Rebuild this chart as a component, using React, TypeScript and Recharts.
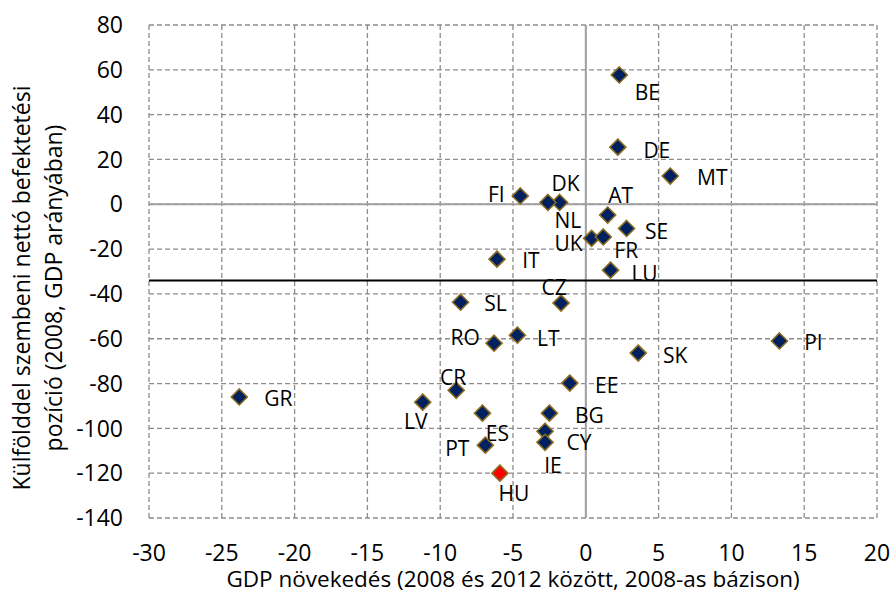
import React from 'react';
import {
  ScatterChart,
  Scatter,
  XAxis,
  YAxis,
  CartesianGrid,
  ReferenceLine,
} from 'recharts';

// country codes, GDP growth 2008-2012 (%), net international investment position 2008 (% of GDP)
const countries = ['BE', 'DE', 'MT', 'FI', 'DK', 'NL', 'AT', 'SE', 'UK', 'FR', 'IT', 'LU', 'CZ', 'SL', 'RO', 'LT', 'SK', 'PI', 'EE', 'CR', 'BG', 'ES', 'LV', 'CY', 'IE', 'PT', 'HU', 'GR'];
const gdpGrowth = [2.3, 2.2, 5.8, -4.5, -1.8, -2.6, 1.5, 2.8, 0.4, 1.2, -6.1, 1.7, -1.7, -8.6, -6.3, -4.7, 3.6, 13.3, -1.1, -8.9, -2.5, -7.1, -11.2, -2.8, -2.8, -6.9, -5.9, -23.8];
const niip = [57.7, 25.5, 12.6, 3.7, 0.8, 0.8, -4.8, -10.8, -15.2, -14.6, -24.5, -29.4, -44.1, -43.7, -62, -58.4, -66.4, -61, -79.8, -83, -93.2, -93.2, -88.3, -101.3, -106.2, -107.5, -120, -86];

const xTicks = [-30, -25, -20, -15, -10, -5, 0, 5, 10, 15, 20];
const yTicks = [80, 60, 40, 20, 0, -20, -40, -60, -80, -100, -120, -140];
const euAverage = -34;
const highlighted = 'HU';

const data = countries.map((name, i) => ({ name, x: gdpGrowth[i], y: niip[i] }));

// label placement relative to the marker centre (px)
const labelOffsets: Record<string, [number, number]> = {
  BE: [28, 17], DE: [39, 3], MT: [42, 1], FI: [-24, -2], DK: [6, -19], NL: [20, 18],
  AT: [13, -20], SE: [30, 3], UK: [-23, 5], FR: [23, 13], IT: [34, 1], LU: [34, 3],
  CZ: [-7, -16], SL: [35, 1], RO: [-29, -6], LT: [31, 3], SK: [37, 2], PI: [34, 1],
  EE: [37, 2], CR: [-3, -13], BG: [40, 2], ES: [15, 20], LV: [-7, 19], CY: [34, 11],
  IE: [8, 23], PT: [-28, 3], HU: [14, 20], GR: [39, 1],
};

const FONT = 'Open Sans, sans-serif';

const Diamond = (props: any) => {
  const { cx, cy, payload } = props;
  const r = 8;
  const [dx, dy] = labelOffsets[payload.name] || [20, 0];
  return (
    <g>
      <polygon
        points={`${cx},${cy - r} ${cx + r},${cy} ${cx},${cy + r} ${cx - r},${cy}`}
        fill={payload.name === highlighted ? '#ff0000' : '#002060'}
        stroke="#8a6a1f"
        strokeWidth={1.6}
      />
      <text
        x={cx + dx}
        y={cy + dy}
        textAnchor="middle"
        dominantBaseline="central"
        fontFamily={FONT}
        fontSize={21}
        fill="#000"
      >
        {payload.name}
      </text>
    </g>
  );
};

const YTitle = () => (
  <g fontFamily={FONT} fontSize={23} fill="#000">
    <text x={21} y={288} textAnchor="middle" dominantBaseline="central" transform="rotate(-90 21 288)">
      Külfölddel szembeni nettó befektetési
    </text>
    <text x={53} y={288} textAnchor="middle" dominantBaseline="central" transform="rotate(-90 53 288)">
      pozíció (2008, GDP arányában)
    </text>
  </g>
);

const XTitle = (props: any) => {
  const { viewBox } = props;
  return (
    <text
      x={viewBox.x + viewBox.width / 2}
      y={587}
      textAnchor="middle"
      fontFamily={FONT}
      fontSize={22.5}
      fill="#000"
    >
      GDP növekedés (2008 és 2012 között, 2008-as bázison)
    </text>
  );
};

export default function App() {
  return (
    <div style={{ position: 'absolute', left: 0, top: 0, width: 890, height: 594, background: '#fff' }}>
      <ScatterChart width={890} height={594} margin={{ top: 25, right: 13, bottom: 0, left: 89 }}>
        <CartesianGrid stroke="#8c8c8c" strokeDasharray="5 3" strokeWidth={1.3} />
        <XAxis
          type="number"
          dataKey="x"
          domain={[-30, 20]}
          ticks={xTicks}
          interval={0}
          axisLine={false}
          tickLine={false}
          tickSize={0}
          tickMargin={27}
          height={76}
          tick={{ fontFamily: FONT, fontSize: 23, fill: '#000' }}
          label={{ content: (p: any) => <XTitle {...p} /> }}
        />
        <YAxis
          type="number"
          dataKey="y"
          domain={[-140, 80]}
          ticks={yTicks}
          interval={0}
          axisLine={false}
          tickLine={false}
          tickSize={0}
          tickMargin={26}
          width={60}
          tick={{ fontFamily: FONT, fontSize: 23, fill: '#000' }}
          label={{ content: () => <YTitle /> }}
        />
        <ReferenceLine x={0} stroke="#a0a0a0" strokeWidth={2} />
        <ReferenceLine y={0} stroke="#a0a0a0" strokeWidth={2} />
        <ReferenceLine y={euAverage} stroke="#000" strokeWidth={2} />
        <Scatter data={data} shape={<Diamond />} isAnimationActive={false} />
      </ScatterChart>
    </div>
  );
}
